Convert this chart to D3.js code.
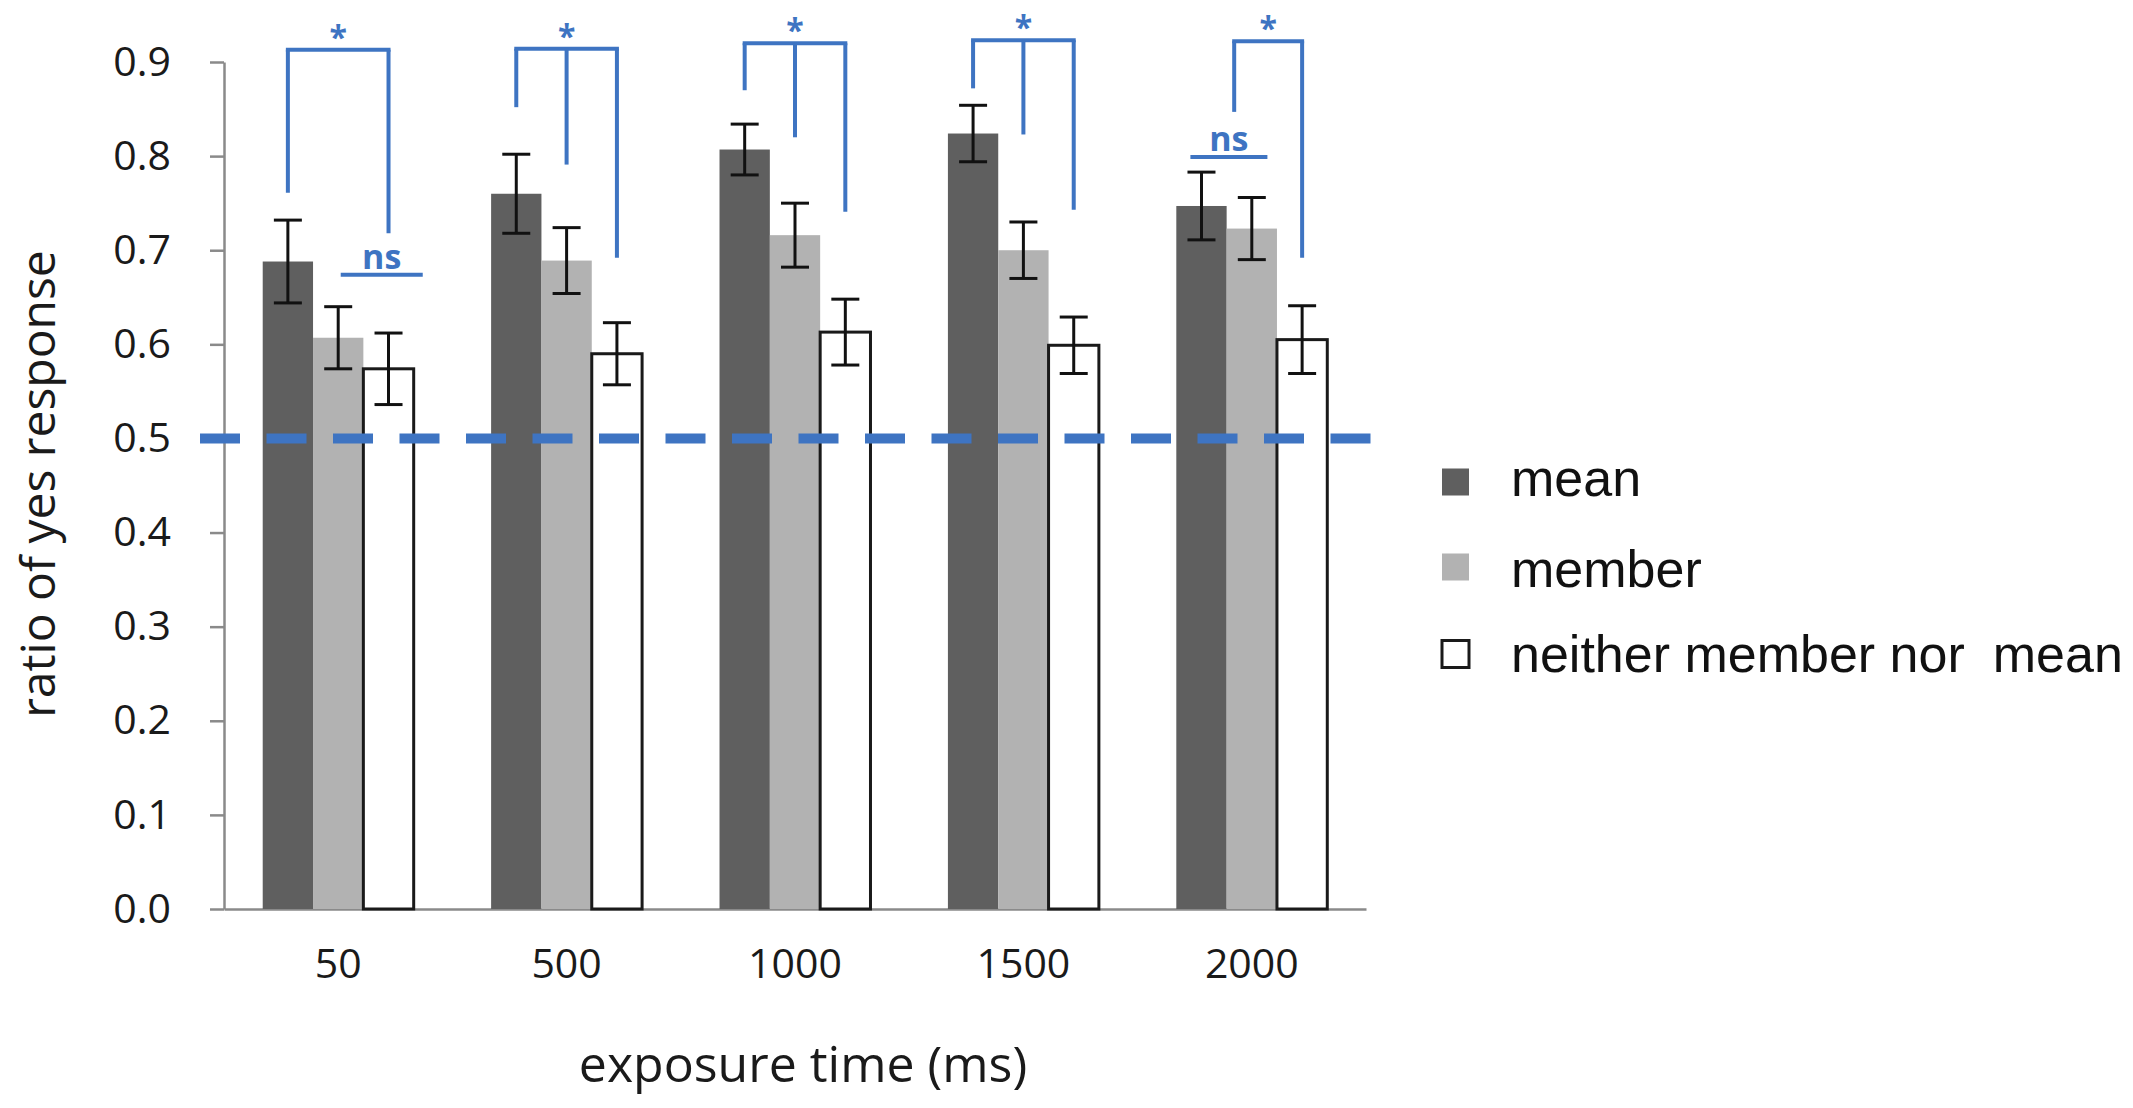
<!DOCTYPE html>
<html lang="en">
<head>
<meta charset="utf-8">
<title>ratio of yes response</title>
<script src="https://cdn.jsdelivr.net/npm/d3@7"></script>
<style>
  html, body { margin: 0; padding: 0; background: #fff; }
  svg { display: block; }
</style>
</head>
<body>
<svg id="chart" width="2133" height="1108"></svg>
<script>
// exposure time groups and the three response types
var categories = ["50", "500", "1000", "1500", "2000"];
var seriesNames = ["mean", "member", "neither member nor mean"];

// bar heights (ratio of yes response) and error bar half-widths
var meanVals = [0.688, 0.760, 0.807, 0.824, 0.747];
var meanErr = [0.044, 0.042, 0.027, 0.030, 0.036];
var memberVals = [0.607, 0.689, 0.716, 0.700, 0.723];
var memberErr = [0.033, 0.035, 0.034, 0.030, 0.033];
var neitherVals = [0.574, 0.590, 0.613, 0.599, 0.605];
var neitherErr = [0.038, 0.033, 0.035, 0.030, 0.036];

var yTicks = [0, 0.1, 0.2, 0.3, 0.4, 0.5, 0.6, 0.7, 0.8, 0.9];
var chanceLevel = 0.5;

// significance brackets: legs are [position in bar widths from group start, lower end value]
var starBrackets = [
    { group: "50", top: 0.913, legs: [[0.5, 0.761], [2.5, 0.718]] },
    { group: "500", top: 0.914, legs: [[0.5, 0.852], [1.5, 0.791], [2.5, 0.692]] },
    { group: "1000", top: 0.920, legs: [[0.5, 0.870], [1.5, 0.820], [2.5, 0.741]] },
    { group: "1500", top: 0.923, legs: [[0.5, 0.872], [1.5, 0.823], [2.5, 0.743]] },
    { group: "2000", top: 0.922, legs: [[1.15, 0.847], [2.5, 0.692]] }
];
var nsMarks = [
    { group: "50", from: 1.55, to: 3.18, at: 0.674 },
    { group: "2000", from: 0.28, to: 1.81, at: 0.799 }
];

var fills = ["#5f5f5f", "#b2b2b2", "#ffffff"];
var blue = "#3e74c2";
var axisGrey = "#8a8a8a";
var sans = "'Open Sans', 'Noto Sans', sans-serif";

var svg = d3.select("#chart");

var x = d3.scaleBand().domain(categories).range([224, 1366]).paddingInner(0.339).paddingOuter(0.1695);
var xs = d3.scaleBand().domain(seriesNames).range([0, x.bandwidth()]);
var y = d3.scaleLinear().domain([0, 0.9]).range([909, 62]);
var bw = xs.bandwidth();

var rows = categories.map(function (c, i) {
    return {
        cat: c,
        bars: [
            { s: seriesNames[0], v: meanVals[i], e: meanErr[i], k: 0 },
            { s: seriesNames[1], v: memberVals[i], e: memberErr[i], k: 1 },
            { s: seriesNames[2], v: neitherVals[i], e: neitherErr[i], k: 2 }
        ]
    };
});

// y axis
var yAxis = svg.append("g")
    .attr("transform", "translate(224,0)")
    .call(d3.axisLeft(y).tickValues(yTicks).tickFormat(d3.format(".1f")).tickSizeInner(14).tickSizeOuter(0).tickPadding(39));
yAxis.select(".domain").attr("stroke", axisGrey).attr("stroke-width", 2.5);
yAxis.selectAll(".tick line").attr("stroke", axisGrey).attr("stroke-width", 2.5);
yAxis.selectAll(".tick text")
    .attr("fill", "#1a1a1a")
    .style("font-family", sans)
    .style("font-size", "41px");

// x axis
var xAxis = svg.append("g")
    .attr("transform", "translate(0,909)")
    .call(d3.axisBottom(x).tickSize(0).tickPadding(40));
xAxis.select(".domain").attr("stroke", axisGrey).attr("stroke-width", 2.5);
xAxis.selectAll(".tick text")
    .attr("fill", "#1a1a1a")
    .style("font-family", sans)
    .style("font-size", "41px");

// bars
var groups = svg.append("g").selectAll("g")
    .data(rows)
    .enter()
    .append("g")
    .attr("transform", function (d) { return "translate(" + x(d.cat) + ",0)"; });

groups.selectAll("rect")
    .data(function (d) { return d.bars; })
    .enter()
    .append("rect")
    .attr("x", function (d) { return xs(d.s); })
    .attr("y", function (d) { return y(d.v); })
    .attr("width", bw)
    .attr("height", function (d) { return y(0) - y(d.v); })
    .attr("fill", function (d) { return fills[d.k]; })
    .attr("stroke", function (d) { return d.k == 2 ? "#1a1a1a" : "none"; })
    .attr("stroke-width", 3);

// error bars
var eb = groups.selectAll("g.err")
    .data(function (d) { return d.bars; })
    .enter()
    .append("g")
    .attr("class", "err")
    .attr("stroke", "#111")
    .attr("stroke-width", 3);
eb.append("line")
    .attr("x1", function (d) { return xs(d.s) + bw / 2; })
    .attr("x2", function (d) { return xs(d.s) + bw / 2; })
    .attr("y1", function (d) { return y(d.v + d.e); })
    .attr("y2", function (d) { return y(d.v - d.e); });
eb.append("line")
    .attr("x1", function (d) { return xs(d.s) + bw / 2 - 14; })
    .attr("x2", function (d) { return xs(d.s) + bw / 2 + 14; })
    .attr("y1", function (d) { return y(d.v + d.e); })
    .attr("y2", function (d) { return y(d.v + d.e); });
eb.append("line")
    .attr("x1", function (d) { return xs(d.s) + bw / 2 - 14; })
    .attr("x2", function (d) { return xs(d.s) + bw / 2 + 14; })
    .attr("y1", function (d) { return y(d.v - d.e); })
    .attr("y2", function (d) { return y(d.v - d.e); });

// chance level
svg.append("line")
    .attr("x1", 200)
    .attr("x2", 1373)
    .attr("y1", y(chanceLevel))
    .attr("y2", y(chanceLevel))
    .attr("stroke", blue)
    .attr("stroke-width", 10)
    .attr("stroke-dasharray", "40,26.5");

// significance brackets
starBrackets.forEach(function (b) {
    var x0 = x(b.group);
    var g = svg.append("g").attr("fill", "none").attr("stroke", blue).attr("stroke-width", 4);
    var first = x0 + b.legs[0][0] * bw;
    var last = x0 + b.legs[b.legs.length - 1][0] * bw;
    g.append("line").attr("x1", first - 2).attr("x2", last + 2).attr("y1", y(b.top)).attr("y2", y(b.top));
    b.legs.forEach(function (l) {
        g.append("line")
            .attr("x1", x0 + l[0] * bw).attr("x2", x0 + l[0] * bw)
            .attr("y1", y(b.top)).attr("y2", y(l[1]));
    });
    svg.append("text")
        .attr("x", (first + last) / 2)
        .attr("y", y(b.top) - 1)
        .attr("text-anchor", "middle")
        .attr("fill", blue)
        .style("font-family", sans)
        .style("font-weight", "bold")
        .style("font-size", "32px")
        .text("*");
});

nsMarks.forEach(function (m) {
    var x0 = x(m.group);
    svg.append("line")
        .attr("x1", x0 + m.from * bw).attr("x2", x0 + m.to * bw)
        .attr("y1", y(m.at)).attr("y2", y(m.at))
        .attr("stroke", blue).attr("stroke-width", 4);
    svg.append("text")
        .attr("x", x0 + (m.from + m.to) / 2 * bw)
        .attr("y", y(m.at) - 6)
        .attr("text-anchor", "middle")
        .attr("fill", blue)
        .style("font-family", sans)
        .style("font-weight", "bold")
        .style("font-size", "34px")
        .text("ns");
});

// axis titles
svg.append("text")
    .attr("transform", "translate(55,484) rotate(-90)")
    .attr("text-anchor", "middle")
    .attr("fill", "#1a1a1a")
    .style("font-family", sans)
    .style("font-size", "48px")
    .text("ratio of yes response");

svg.append("text")
    .attr("x", 803)
    .attr("y", 1082)
    .attr("text-anchor", "middle")
    .attr("fill", "#1a1a1a")
    .style("font-family", sans)
    .style("font-size", "50px")
    .text("exposure time (ms)");

// legend
var legendRows = [482, 567, 654];
var legendBase = [496, 587, 672];
var legend = svg.append("g").selectAll("g")
    .data(seriesNames)
    .enter()
    .append("g");
legend.append("rect")
    .attr("x", 1442)
    .attr("y", function (d, i) { return legendRows[i] - 13.5; })
    .attr("width", 27)
    .attr("height", 27)
    .attr("fill", function (d, i) { return fills[i]; })
    .attr("stroke", function (d, i) { return i == 2 ? "#1a1a1a" : "none"; })
    .attr("stroke-width", 3);
var lt = legend.append("text")
    .attr("x", 1511)
    .attr("y", function (d, i) { return legendBase[i]; })
    .attr("fill", "#111")
    .style("font-family", "'Liberation Sans', Arial, sans-serif")
    .style("font-size", "52px");
lt.each(function (d) {
    var t = d3.select(this);
    var cut = d.lastIndexOf(" ");
    if (d.indexOf(" ") < 0) {
        t.text(d);
        return;
    }
    t.append("tspan").text(d.slice(0, cut));
    t.append("tspan").attr("dx", 28).text(d.slice(cut + 1));
});
</script>
</body>
</html>
